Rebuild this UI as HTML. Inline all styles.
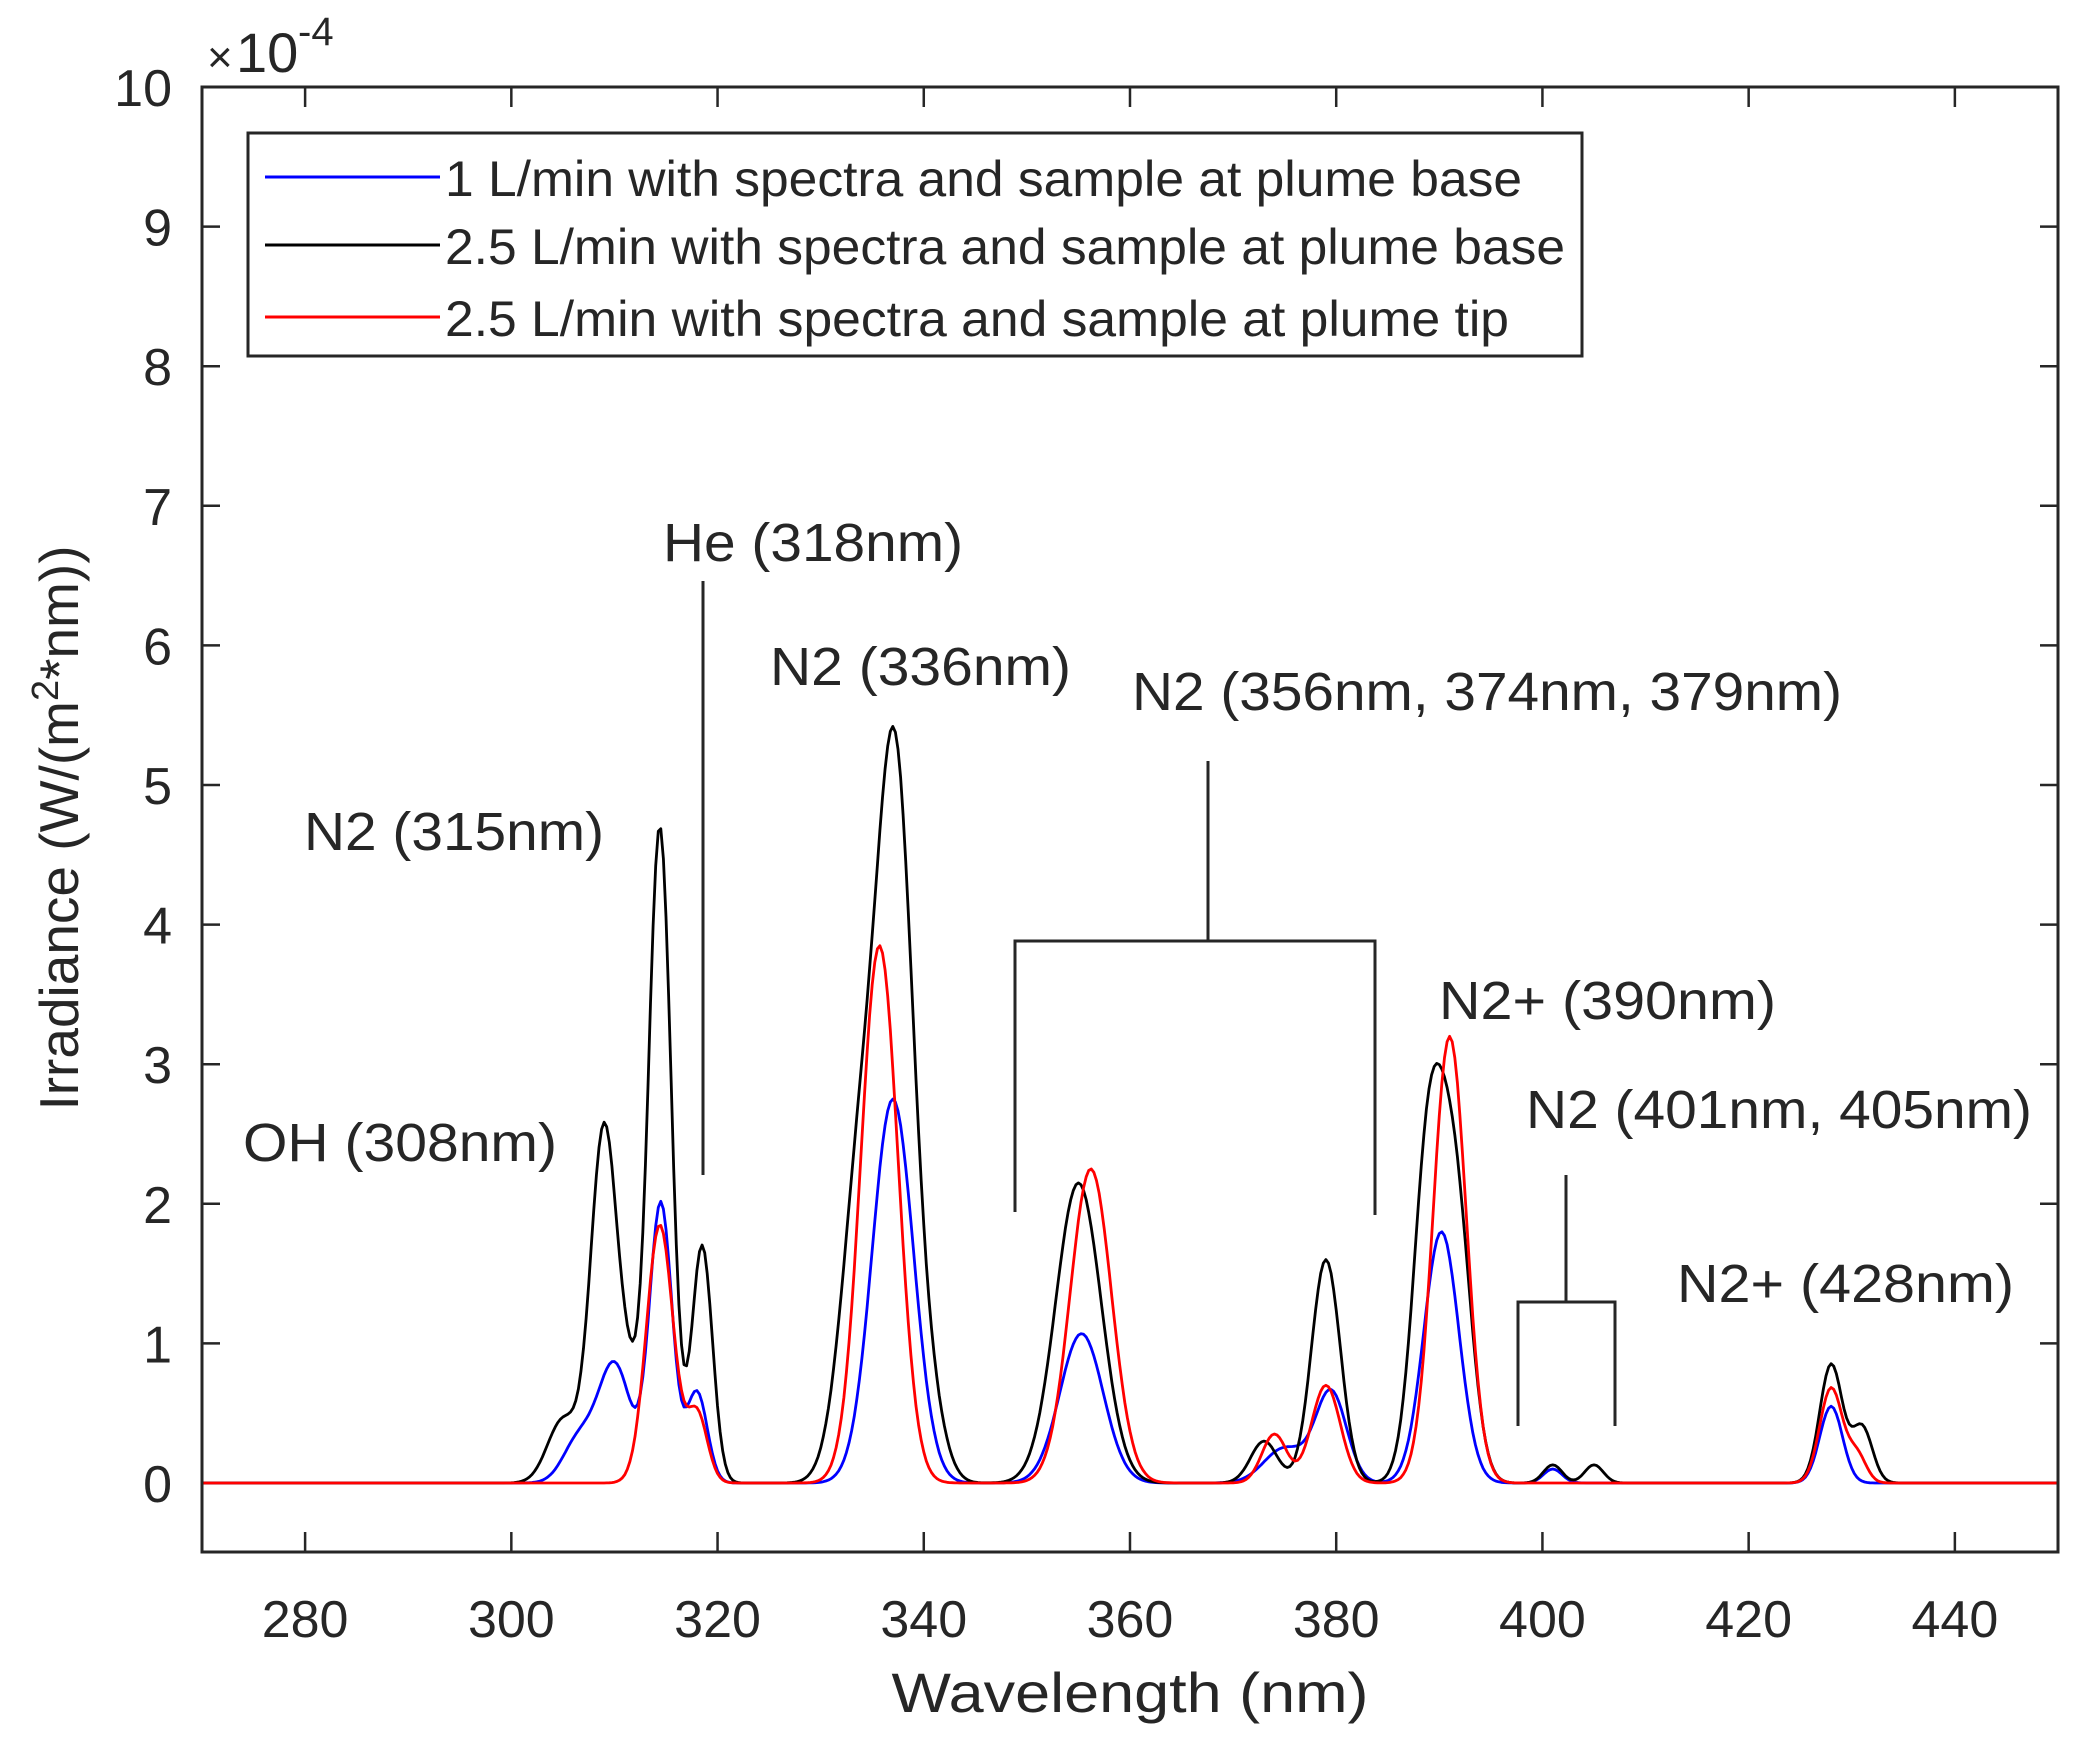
<!DOCTYPE html>
<html><head><meta charset="utf-8"><style>
html,body{margin:0;padding:0;background:#fff;}
svg{display:block;}
text{font-family:"Liberation Sans",Arial,sans-serif;fill:#262626;}
</style></head><body>
<svg id="s" width="2094" height="1755" viewBox="0 0 2094 1755" xmlns="http://www.w3.org/2000/svg">
<rect width="2094" height="1755" fill="#fff"/>
<g id="ticks" stroke="#262626" stroke-width="2.5"></g>
<g id="curves" fill="none" stroke-width="2.8" stroke-linejoin="round"></g>
<rect x="202" y="87" width="1856" height="1465" fill="none" stroke="#262626" stroke-width="3"/>
<g id="labels" font-size="52" text-anchor="middle"></g>
<text x="207" y="72" font-size="44">×</text>
<text x="236" y="72" font-size="56">10</text>
<text x="298" y="45" font-size="40">-4</text>
<!-- legend -->
<rect x="248" y="133" width="1334" height="223" fill="#fff" stroke="#262626" stroke-width="3"/>
<line x1="265" y1="177" x2="440" y2="177" stroke="#0000ff" stroke-width="3"/>
<line x1="265" y1="245" x2="440" y2="245" stroke="#000" stroke-width="3"/>
<line x1="265" y1="317" x2="440" y2="317" stroke="#ff0000" stroke-width="3"/>
<text x="445" y="196" font-size="50" textLength="1077" lengthAdjust="spacingAndGlyphs">1 L/min with spectra and sample at plume base</text>
<text x="445" y="264" font-size="50" textLength="1120" lengthAdjust="spacingAndGlyphs">2.5 L/min with spectra and sample at plume base</text>
<text x="445" y="336" font-size="50" textLength="1064" lengthAdjust="spacingAndGlyphs">2.5 L/min with spectra and sample at plume tip</text>
<!-- annotations -->
<g font-size="54">
<text x="663" y="561" textLength="300" lengthAdjust="spacingAndGlyphs">He (318nm)</text>
<text x="770" y="685" textLength="301" lengthAdjust="spacingAndGlyphs">N2 (336nm)</text>
<text x="1132" y="710" textLength="710" lengthAdjust="spacingAndGlyphs">N2 (356nm, 374nm, 379nm)</text>
<text x="304" y="850" textLength="300" lengthAdjust="spacingAndGlyphs">N2 (315nm)</text>
<text x="1439" y="1019" textLength="337" lengthAdjust="spacingAndGlyphs">N2+ (390nm)</text>
<text x="1526" y="1128" textLength="506" lengthAdjust="spacingAndGlyphs">N2 (401nm, 405nm)</text>
<text x="243" y="1161" textLength="314" lengthAdjust="spacingAndGlyphs">OH (308nm)</text>
<text x="1677" y="1302" textLength="337" lengthAdjust="spacingAndGlyphs">N2+ (428nm)</text>
</g>
<g stroke="#262626" stroke-width="3" fill="none">
<line x1="703" y1="581" x2="703" y2="1175"/>
<line x1="1208" y1="761" x2="1208" y2="941"/>
<polyline points="1015,1212 1015,941 1375,941 1375,1215"/>
<line x1="1566" y1="1175" x2="1566" y2="1302"/>
<polyline points="1518,1426 1518,1302 1615,1302 1615,1426"/>
</g>
<text x="1130" y="1712" font-size="56" text-anchor="middle" textLength="477" lengthAdjust="spacingAndGlyphs">Wavelength (nm)</text>
<text transform="translate(78,828) rotate(-90)" font-size="55" text-anchor="middle">Irradiance (W/(m<tspan font-size="38" dy="-20">2</tspan><tspan dy="20">*nm))</tspan></text>
</svg>
<script>
var NS="http://www.w3.org/2000/svg";
function X(nm){return 202+(nm-270)*10.311;}
function Y(v){return 1483-v*139.6;}
var tk=document.getElementById('ticks'),lb=document.getElementById('labels');
function ln(x1,y1,x2,y2){var l=document.createElementNS(NS,'line');l.setAttribute('x1',x1);l.setAttribute('y1',y1);l.setAttribute('x2',x2);l.setAttribute('y2',y2);tk.appendChild(l);}
function tx(x,y,s,a){var t=document.createElementNS(NS,'text');t.setAttribute('x',x);t.setAttribute('y',y);if(a)t.setAttribute('text-anchor',a);t.textContent=s;lb.appendChild(t);}
for(var nm=280;nm<=440;nm+=20){var x=X(nm);ln(x,1552,x,1532);ln(x,87,x,107);tx(x,1637,String(nm));}
for(var v=0;v<=10;v++){var y=Y(v);ln(202,y,220,y);ln(2058,y,2040,y);tx(172,y+19,String(v),'end');}
var series=[
 ['#0000ff',[[306.5,0.3,1.5],[310,0.85,1.6],[314.5,2.0,1.1],[318,0.65,1.0],[337,2.75,2.0],[355.3,1.07,2.1],[375,0.25,2],[379.5,0.65,1.5],[390.2,1.8,1.7],[401,0.1,0.9],[428,0.55,1.1]]],
 ['#000000',[[305,0.45,1.5],[309,2.55,1.3],[314.4,4.7,1.1],[318.5,1.7,1.0],[311.5,0.5,1],[334,2.3,1.9],[337.3,4.8,1.7],[340.5,0.5,1.5],[355,2.15,2.2],[373,0.3,1.3],[379,1.6,1.4],[389,2.4,1.5],[391.6,1.9,1.5],[401,0.13,0.9],[405,0.13,0.9],[428,0.85,1.1],[431,0.4,1.0]]],
 ['#ff0000',[[314.4,1.85,1.3],[318,0.5,1.0],[335.7,3.85,1.8],[356.2,2.25,2.0],[374,0.35,1.2],[379,0.7,1.4],[391,3.2,1.6],[428,0.68,1.1],[430.5,0.2,0.9]]]
];
var cg=document.getElementById('curves');
series.forEach(function(s){var d='';for(var nm=270;nm<=450;nm+=0.25){var v=0;s[1].forEach(function(p){var z=(nm-p[0])/p[2];v+=p[1]*Math.exp(-z*z/2);});d+=(d?'L':'M')+X(nm).toFixed(1)+','+Y(v).toFixed(1);}
var p=document.createElementNS(NS,'path');p.setAttribute('d',d);p.setAttribute('stroke',s[0]);cg.appendChild(p);});
</script>
</body></html>
